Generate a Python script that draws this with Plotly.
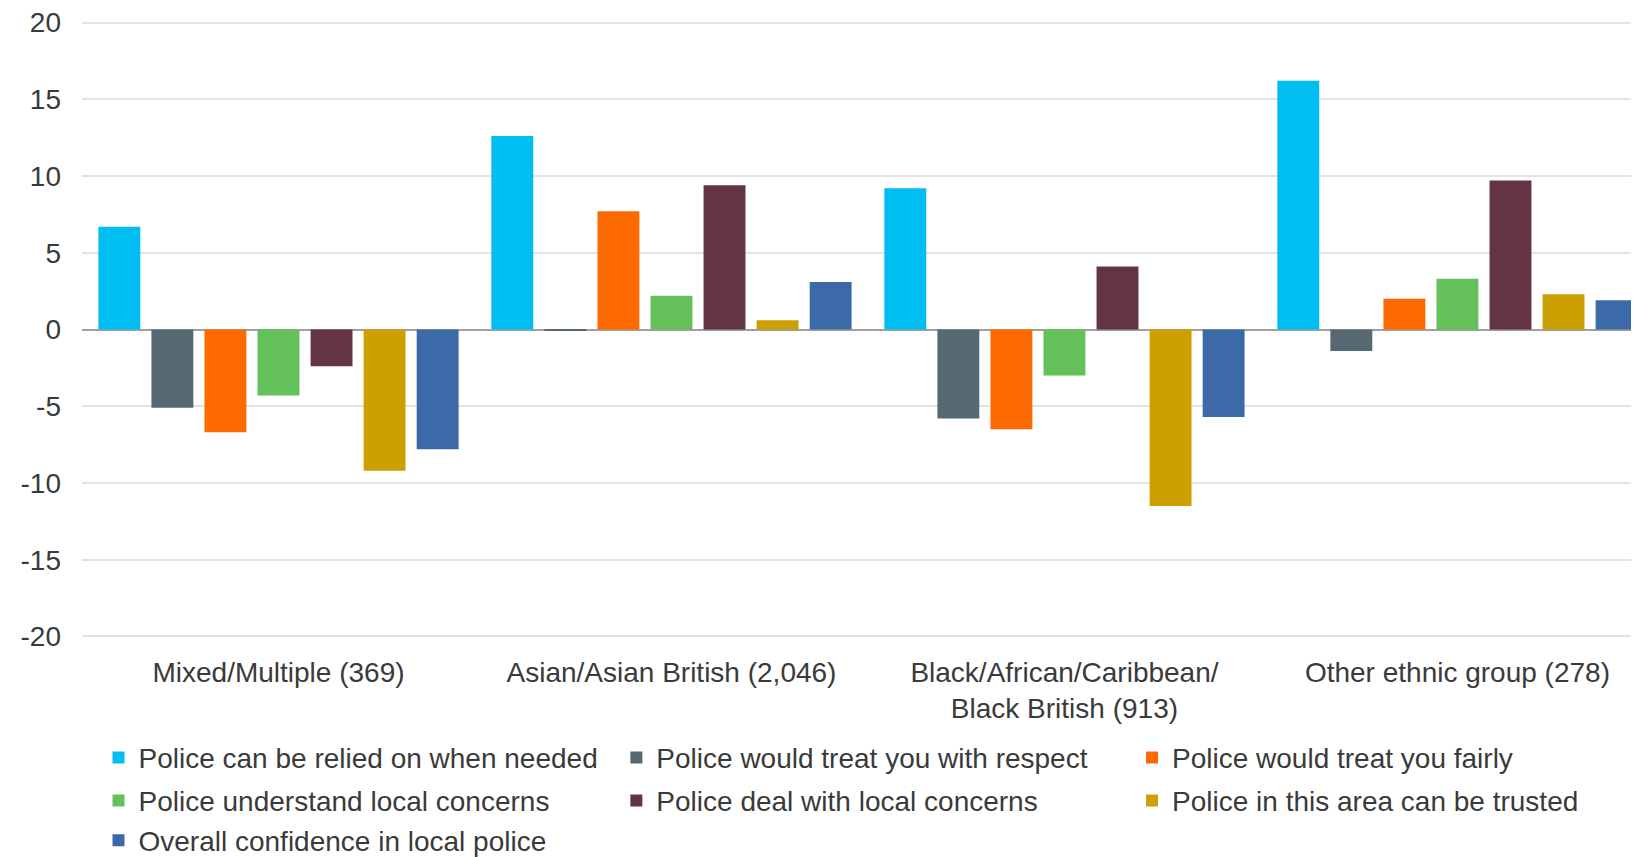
import plotly.graph_objects as go

categories = ["Mixed/Multiple (369)", "Asian/Asian British (2,046)",
              "Black/African/Caribbean/<br>Black British (913)", "Other ethnic group (278)"]

series_names = [
    "Police can be relied on when needed",
    "Police would treat you with respect",
    "Police would treat you fairly",
    "Police understand local concerns",
    "Police deal with local concerns",
    "Police in this area can be trusted",
    "Overall confidence in local police",
]

relied_on = [6.7, 12.6, 9.2, 16.2]
respect = [-5.1, -0.1, -5.8, -1.4]
fairly = [-6.7, 7.7, -6.5, 2.0]
understand = [-4.3, 2.2, -3.0, 3.3]
deal_with = [-2.4, 9.4, 4.1, 9.7]
trusted = [-9.2, 0.6, -11.5, 2.3]
overall = [-7.8, 3.1, -5.7, 1.9]

series_values = [relied_on, respect, fairly, understand, deal_with, trusted, overall]
colors = ["#00BDF2", "#566872", "#FF6A00", "#64C15A", "#643442", "#CBA000", "#3C69A8"]

y_ticks = [-20, -15, -10, -5, 0, 5, 10, 15, 20]
y_tick_labels = ["-20", "-15", "-10", "-5", "0", "5", "10", "15", "20"]

# legend grid: three columns, three rows (row-major order of the series)
legend_col_x = [0.0106, 0.3432, 0.6744]
legend_row_y = [-0.1535, -0.2232, -0.2878]

fig = go.Figure()
legend_layouts = {}
for i, (name, vals, col) in enumerate(zip(series_names, series_values, colors)):
    lg = "legend" if i == 0 else f"legend{i + 1}"
    fig.add_trace(go.Bar(name=name, x=categories, y=vals, marker_color=col,
                         marker_line_width=0, legend=lg))
    legend_layouts[lg] = dict(
        x=legend_col_x[i % 3], y=legend_row_y[i // 3],
        xanchor="left", yanchor="top", orientation="h",
        font=dict(size=28), itemwidth=30, bgcolor="rgba(0,0,0,0)",
    )

font_family = "Liberation Sans, Arial, sans-serif"
fig.update_layout(
    width=1631, height=849,
    margin=dict(l=74, r=0, t=13, b=219, autoexpand=False),
    plot_bgcolor="white", paper_bgcolor="white",
    barmode="group", bargap=0.055, bargroupgap=0.21,
    font=dict(family=font_family, size=28, color="#3a3a3a"),
    xaxis=dict(showgrid=False, showline=False, ticks="", range=[-0.5, 3.462],
               tickfont=dict(size=28), ticklabelstandoff=15),
    yaxis=dict(range=[-20.1, 20.1], tickvals=y_ticks, ticktext=y_tick_labels,
               showgrid=True, gridcolor="#E3E3E3",
               gridwidth=1.5, zeroline=True, zerolinecolor="#A0A0A0", zerolinewidth=2,
               ticks="", ticklabelstandoff=20, tickfont=dict(size=28),
               ticklabeloverflow="allow"),
    showlegend=True,
    **legend_layouts,
)

fig.write_html("out.html")
